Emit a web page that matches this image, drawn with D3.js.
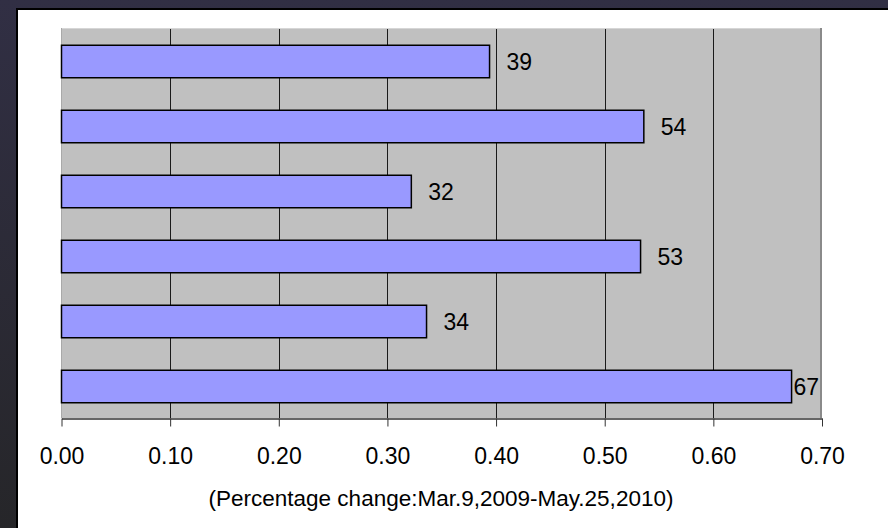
<!DOCTYPE html>
<html>
<head>
<meta charset="utf-8">
<script src="https://cdn.jsdelivr.net/npm/d3@7"></script>
<style>
  html, body { margin: 0; padding: 0; background: #2b2a36; }
  svg { display: block; }
  text { font-family: "Liberation Sans", Arial, sans-serif; fill: #000; }
</style>
</head>
<body>
<svg id="chart" width="888" height="528"></svg>
<script>
// Percentage change per row, top to bottom
const rows = ["row1", "row2", "row3", "row4", "row5", "row6"];
const changes = [0.394, 0.536, 0.322, 0.533, 0.336, 0.672];
const tickValues = [0, 0.1, 0.2, 0.3, 0.4, 0.5, 0.6, 0.7];
const axisTitle = "(Percentage change:Mar.9,2009-May.25,2010)";

const W = 888, H = 528;
const plot = { left: 61, right: 821, top: 28, bottom: 418 };

const svg = d3.select("#chart");

// dark backdrop behind the white panel
const defs = svg.append("defs");
const grad = defs.append("linearGradient")
  .attr("id", "bgGrad").attr("x1", 0).attr("y1", 0).attr("x2", 0).attr("y2", 1);
grad.append("stop").attr("offset", "0%").attr("stop-color", "#312f44");
grad.append("stop").attr("offset", "100%").attr("stop-color", "#262629");
svg.append("rect").attr("width", W).attr("height", H).attr("fill", "url(#bgGrad)");

// white panel with a black frame
svg.append("rect").attr("x", 16).attr("y", 8).attr("width", W - 16).attr("height", H - 8).attr("fill", "#000");
svg.append("rect").attr("x", 18).attr("y", 10).attr("width", W - 18).attr("height", H - 10).attr("fill", "#fff");

const x = d3.scaleLinear().domain([0, 0.7]).range([plot.left + 0.5, plot.right + 1]);
const y = d3.scaleBand().domain(rows).range([plot.top + 1, plot.bottom + 1])
  .paddingInner(0.5).paddingOuter(0.25);

// plot area
svg.append("rect")
  .attr("x", plot.left).attr("y", plot.top)
  .attr("width", plot.right - plot.left).attr("height", plot.bottom - plot.top)
  .attr("fill", "#c0c0c0");

// vertical gridlines
svg.append("g").selectAll("line")
  .data(tickValues.filter(t => t > 0 && t < 0.7))
  .join("line")
  .attr("x1", d => Math.round(x(d)) + 0.5).attr("x2", d => Math.round(x(d)) + 0.5)
  .attr("y1", plot.top).attr("y2", plot.bottom)
  .attr("stroke", "#1a1a1a").attr("stroke-width", 1);

// plot frame: light top and left, darker right edge
svg.append("line").attr("x1", plot.left).attr("x2", plot.right + 1)
  .attr("y1", plot.top + 0.5).attr("y2", plot.top + 0.5)
  .attr("stroke", "#d6d6d6").attr("stroke-width", 1);
svg.append("line").attr("x1", plot.left + 0.5).attr("x2", plot.left + 0.5)
  .attr("y1", plot.top).attr("y2", plot.bottom)
  .attr("stroke", "#a9a9a9").attr("stroke-width", 1);
svg.append("line").attr("x1", plot.right).attr("x2", plot.right)
  .attr("y1", plot.top).attr("y2", plot.bottom)
  .attr("stroke", "#8a8a8a").attr("stroke-width", 2);

// bars
const data = rows.map((r, i) => ({ row: r, value: changes[i] }));
svg.append("g").selectAll("rect")
  .data(data)
  .join("rect")
  .attr("x", x(0))
  .attr("y", d => y(d.row))
  .attr("width", d => x(d.value) - x(0))
  .attr("height", y.bandwidth())
  .attr("fill", "#9999ff")
  .attr("stroke", "#000")
  .attr("stroke-width", 1.5);

// value labels, kept inside the plot area
const fmtPct = v => String(Math.round(v * 100));
svg.append("g").selectAll("text")
  .data(data)
  .join("text")
  .attr("y", d => y(d.row) + y.bandwidth() / 2)
  .attr("dy", "0.36em")
  .attr("font-size", 23)
  .text(d => fmtPct(d.value))
  .each(function (d) {
    const w = this.getComputedTextLength();
    let px = x(d.value) + 17;
    if (px + w > plot.right - 2) px = plot.right - 2 - w;
    d3.select(this).attr("x", px);
  });

// x axis
const axis = d3.axisBottom(x)
  .tickValues(tickValues)
  .tickFormat(d3.format(".2f"))
  .tickSizeInner(8)
  .tickSizeOuter(0)
  .tickPadding(21);
const gx = svg.append("g")
  .attr("transform", `translate(0,${plot.bottom + 0.5})`)
  .call(axis);
gx.select(".domain").attr("stroke", "#333").attr("stroke-width", 1.5);
gx.selectAll(".tick line").attr("stroke", "#333");
gx.selectAll(".tick text")
  .attr("font-size", 23)
  .attr("font-family", "Liberation Sans, Arial, sans-serif")
  .attr("fill", "#000");

// axis title
svg.append("text")
  .attr("x", (plot.left + plot.right) / 2)
  .attr("y", 506)
  .attr("text-anchor", "middle")
  .attr("font-size", 22.5)
  .text(axisTitle);
</script>
</body>
</html>
